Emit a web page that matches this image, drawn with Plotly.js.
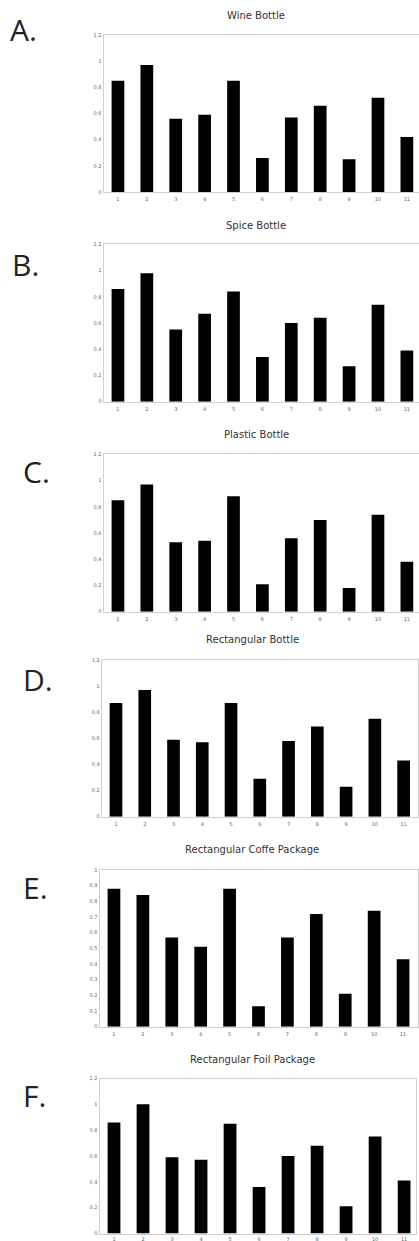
<!DOCTYPE html>
<html>
<head>
<meta charset="utf-8">
<script src="https://cdn.plot.ly/plotly-3.0.1.min.js"></script>
<style>
html,body{margin:0;padding:0;background:#fff;overflow:hidden;}
#chart{width:419px;height:1241px;}
</style>
</head>
<body>
<div id="chart"></div>
<script>
const categories = [1, 2, 3, 4, 5, 6, 7, 8, 9, 10, 11];
const titles = ["Wine Bottle", "Spice Bottle", "Plastic Bottle", "Rectangular Bottle", "Rectangular Coffe Package", "Rectangular Foil Package"];
const letters = ["A.", "B.", "C.", "D.", "E.", "F."];
const wineBottle = [0.85, 0.97, 0.56, 0.59, 0.85, 0.26, 0.57, 0.66, 0.25, 0.72, 0.42];
const spiceBottle = [0.86, 0.98, 0.55, 0.67, 0.84, 0.34, 0.60, 0.64, 0.27, 0.74, 0.39];
const plasticBottle = [0.85, 0.97, 0.53, 0.54, 0.88, 0.21, 0.56, 0.70, 0.18, 0.74, 0.38];
const rectangularBottle = [0.87, 0.97, 0.59, 0.57, 0.87, 0.29, 0.58, 0.69, 0.23, 0.75, 0.43];
const coffePackage = [0.88, 0.84, 0.57, 0.51, 0.88, 0.13, 0.57, 0.72, 0.21, 0.74, 0.43];
const foilPackage = [0.86, 1.00, 0.59, 0.57, 0.85, 0.36, 0.60, 0.68, 0.21, 0.75, 0.41];
const yTicks12 = [0, 0.2, 0.4, 0.6, 0.8, 1, 1.2];
const yTicks10 = [0, 0.1, 0.2, 0.3, 0.4, 0.5, 0.6, 0.7, 0.8, 0.9, 1];

const series = [wineBottle, spiceBottle, plasticBottle, rectangularBottle, coffePackage, foilPackage];

// layout geometry in pixels
const W = 419, H = 1241;
const panels = [
  {l: 103.5, r: 419, t: 35, b: 192, xmax: 11.42, ymax: 1.2, ticks: yTicks12, tx: 256, ty: 15, lx: 8, ly: 30},
  {l: 103.5, r: 419, t: 244.3, b: 401.7, xmax: 11.42, ymax: 1.2, ticks: yTicks12, tx: 256, ty: 225, lx: 10, ly: 265},
  {l: 103.5, r: 419, t: 454.3, b: 611.7, xmax: 11.42, ymax: 1.2, ticks: yTicks12, tx: 256, ty: 434, lx: 21, ly: 472},
  {l: 101.6, r: 418, t: 660, b: 816.7, xmax: 11.5, ymax: 1.2, ticks: yTicks12, tx: 252, ty: 640, lx: 21, ly: 679},
  {l: 99.5, r: 417.5, t: 870, b: 1026.7, xmax: 11.5, ymax: 1.0, ticks: yTicks10, tx: 252, ty: 849, lx: 21, ly: 887},
  {l: 99.5, r: 416, t: 1078.5, b: 1233.5, xmax: 11.41, ymax: 1.2, ticks: yTicks12, tx: 252, ty: 1059, lx: 21, ly: 1095}
];

const data = [];
const layout = {
  width: W, height: H,
  margin: {l: 0, r: 0, t: 0, b: 0},
  paper_bgcolor: '#fff', plot_bgcolor: '#fff',
  showlegend: false,
  separators: ',.',
  annotations: []
};

panels.forEach((p, i) => {
  const n = i === 0 ? '' : String(i + 1);
  data.push({
    type: 'bar', x: categories, y: series[i],
    xaxis: 'x' + n, yaxis: 'y' + n,
    width: 0.44,
    marker: {color: '#000', line: {width: 0}},
    hoverinfo: 'none'
  });
  const axStyle = {
    showline: true, mirror: true, linecolor: '#cfcfcf', linewidth: 1,
    showgrid: false, zeroline: false,
    ticks: '', tickfont: {family: 'DejaVu Sans', size: 5, color: '#666'},
    fixedrange: true
  };
  layout['xaxis' + n] = Object.assign({}, axStyle, {
    domain: [p.l / W, p.r / W], anchor: 'y' + n,
    range: [0.5, p.xmax], tickvals: categories, ticktext: categories.map(String),
    ticklabelstandoff: i === 5 ? 0 : 2
  });
  layout['yaxis' + n] = Object.assign({}, axStyle, {
    domain: [1 - p.b / H, 1 - p.t / H], anchor: 'x' + n,
    range: [0, p.ymax], tickvals: p.ticks
  });
  layout.annotations.push({
    text: titles[i], xref: 'paper', yref: 'paper',
    x: p.tx / W, y: 1 - p.ty / H, xanchor: 'center', yanchor: 'middle',
    showarrow: false, font: {family: 'DejaVu Sans', size: 10, color: '#333'}
  });
  layout.annotations.push({
    text: letters[i], xref: 'paper', yref: 'paper',
    x: p.lx / W, y: 1 - p.ly / H, xanchor: 'left', yanchor: 'middle',
    showarrow: false, font: {family: 'Open Sans', size: 30, color: '#222'}
  });
});

Plotly.newPlot('chart', data, layout, {displayModeBar: false, staticPlot: true});
</script>
</body>
</html>
